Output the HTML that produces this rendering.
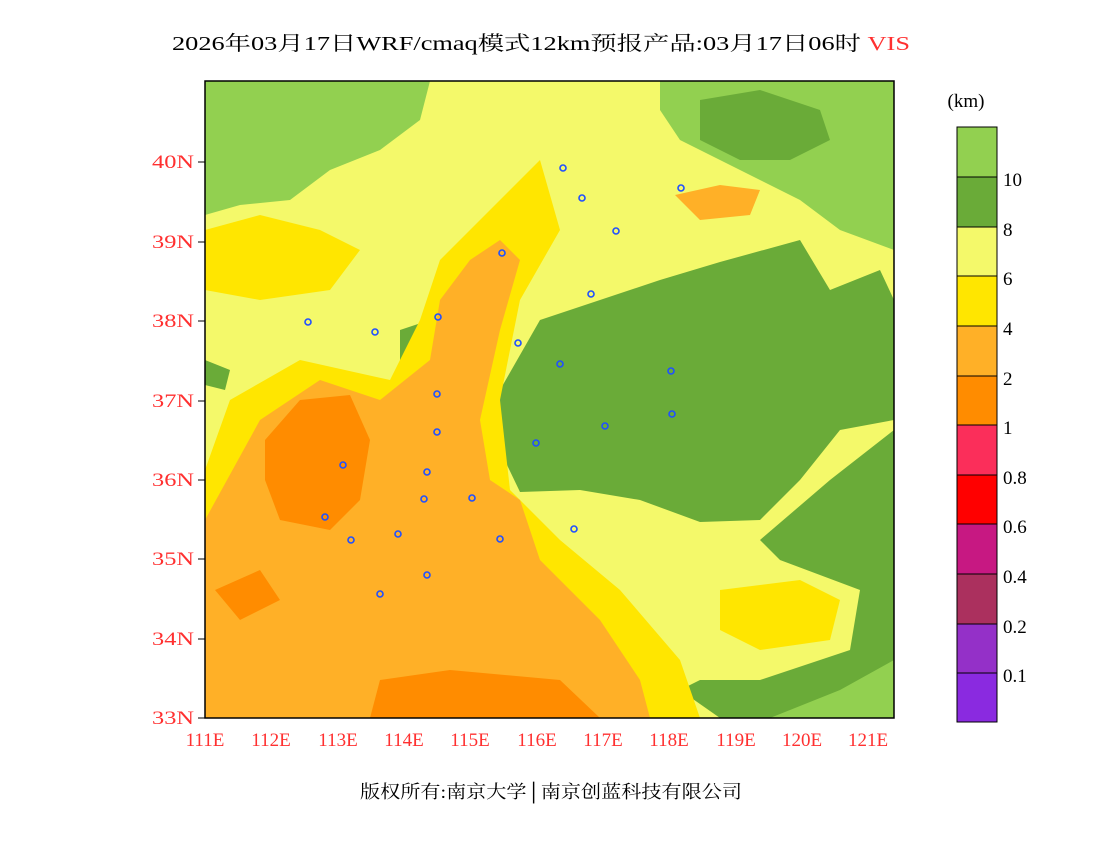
<!DOCTYPE html>
<html><head><meta charset="utf-8"><style>
html,body{margin:0;padding:0;background:#fff;}
svg{display:block;}
text{font-family:"Liberation Serif","Noto Serif CJK SC",serif;}
</style></head><body>
<svg width="1100" height="850" viewBox="0 0 1100 850" xmlns="http://www.w3.org/2000/svg">
<text x="172" y="50" font-size="20" textLength="738" lengthAdjust="spacingAndGlyphs" fill="#000">2026年03月17日WRF/cmaq模式12km预报产品:03月17日06时 <tspan fill="#ff3030">VIS</tspan></text>
<defs><clipPath id="c"><rect x="205" y="81" width="689" height="637"/></clipPath></defs>
<g clip-path="url(#c)">
<rect x="205" y="81" width="689" height="637" fill="#f4f96a"/>
<path d="M205,81 L430,81 L420,120 L380,150 L330,170 L290,200 L240,205 L205,215 Z" fill="#92d050"/>
<path d="M660,81 L894,81 L894,250 L840,230 L800,200 L760,180 L720,160 L680,140 L660,110 Z" fill="#92d050"/>
<path d="M700,100 L760,90 L820,110 L830,140 L790,160 L740,160 L700,140 Z" fill="#6aab38"/>
<path d="M500,390 L540,320 L600,300 L660,280 L720,262 L800,240 L830,290 L880,270 L894,300 L894,420 L840,430 L800,480 L760,520 L700,522 L640,500 L580,490 L520,492 L495,440 Z" fill="#6aab38"/>
<path d="M760,540 L830,480 L894,430 L894,718 L720,718 L680,690 L700,680 L760,680 L850,650 L860,590 L780,560 Z" fill="#6aab38"/>
<path d="M770,718 L840,690 L894,660 L894,718 Z" fill="#92d050"/>
<path d="M205,360 L230,370 L225,390 L205,385 Z M400,330 L430,320 L430,390 L400,385 Z" fill="#6aab38"/>
<path d="M205,470 L230,400 L300,360 L390,380 L420,320 L440,260 L480,220 L540,160 L560,230 L520,300 L500,400 L510,490 L560,540 L620,590 L680,660 L700,718 L205,718 Z" fill="#ffe600"/>
<path d="M720,590 L800,580 L840,600 L830,640 L760,650 L720,630 Z" fill="#ffe600"/>
<path d="M205,230 L260,215 L320,230 L360,250 L330,290 L260,300 L205,290 Z" fill="#ffe600"/>
<path d="M675,195 L720,185 L760,190 L750,215 L700,220 Z" fill="#ffb027"/>
<path d="M205,520 L260,420 L320,380 L380,400 L430,360 L440,300 L470,260 L500,240 L520,260 L500,330 L480,420 L490,480 L520,500 L540,560 L600,620 L640,680 L650,718 L205,718 Z" fill="#ffb027"/>
<path d="M265,440 L300,400 L350,395 L370,440 L360,500 L330,530 L280,520 L265,480 Z" fill="#ff8c00"/>
<path d="M380,680 L450,670 L560,680 L600,718 L370,718 Z" fill="#ff8c00"/>
<path d="M215,590 L260,570 L280,600 L240,620 Z" fill="#ff8c00"/>
</g>
<g fill="none" stroke="#2050ff" stroke-width="1.6">
<circle cx="563" cy="168" r="3"/><circle cx="582" cy="198" r="3"/><circle cx="681" cy="188" r="3"/><circle cx="616" cy="231" r="3"/><circle cx="502" cy="253" r="3"/><circle cx="591" cy="294" r="3"/><circle cx="308" cy="322" r="3"/><circle cx="375" cy="332" r="3"/><circle cx="438" cy="317" r="3"/><circle cx="518" cy="343" r="3"/><circle cx="560" cy="364" r="3"/><circle cx="671" cy="371" r="3"/><circle cx="437" cy="394" r="3"/><circle cx="672" cy="414" r="3"/><circle cx="605" cy="426" r="3"/><circle cx="437" cy="432" r="3"/><circle cx="536" cy="443" r="3"/><circle cx="343" cy="465" r="3"/><circle cx="427" cy="472" r="3"/><circle cx="424" cy="499" r="3"/><circle cx="472" cy="498" r="3"/><circle cx="325" cy="517" r="3"/><circle cx="574" cy="529" r="3"/><circle cx="398" cy="534" r="3"/><circle cx="351" cy="540" r="3"/><circle cx="500" cy="539" r="3"/><circle cx="427" cy="575" r="3"/><circle cx="380" cy="594" r="3"/>
</g>
<rect x="205" y="81" width="689" height="637" fill="none" stroke="#000" stroke-width="1.5"/>
<g stroke="#000" stroke-width="1">
<line x1="198" y1="162" x2="205" y2="162"/><line x1="198" y1="242" x2="205" y2="242"/><line x1="198" y1="321" x2="205" y2="321"/><line x1="198" y1="401" x2="205" y2="401"/><line x1="198" y1="480" x2="205" y2="480"/><line x1="198" y1="559" x2="205" y2="559"/><line x1="198" y1="639" x2="205" y2="639"/><line x1="198" y1="718" x2="205" y2="718"/>
</g>
<g font-size="19" fill="#ff3030" text-anchor="end">
<text x="194" y="168" textLength="42" lengthAdjust="spacingAndGlyphs">40N</text><text x="194" y="248" textLength="42" lengthAdjust="spacingAndGlyphs">39N</text><text x="194" y="327" textLength="42" lengthAdjust="spacingAndGlyphs">38N</text><text x="194" y="407" textLength="42" lengthAdjust="spacingAndGlyphs">37N</text><text x="194" y="486" textLength="42" lengthAdjust="spacingAndGlyphs">36N</text><text x="194" y="565" textLength="42" lengthAdjust="spacingAndGlyphs">35N</text><text x="194" y="645" textLength="42" lengthAdjust="spacingAndGlyphs">34N</text><text x="194" y="724" textLength="42" lengthAdjust="spacingAndGlyphs">33N</text>
</g>
<g font-size="19" fill="#ff3030" text-anchor="middle">
<text x="205" y="746">111E</text><text x="271" y="746">112E</text><text x="338" y="746">113E</text><text x="404" y="746">114E</text><text x="470" y="746">115E</text><text x="537" y="746">116E</text><text x="603" y="746">117E</text><text x="669" y="746">118E</text><text x="736" y="746">119E</text><text x="802" y="746">120E</text><text x="868" y="746">121E</text>
</g>
<text x="360" y="798" font-size="18" textLength="382" lengthAdjust="spacingAndGlyphs">版权所有:南京大学│南京创蓝科技有限公司</text>
<text x="966" y="107" font-size="19" text-anchor="middle">(km)</text>
<g stroke="#000" stroke-width="1">
<rect x="957" y="127" width="40" height="50" fill="#92d050"/>
<rect x="957" y="177" width="40" height="50" fill="#6aab38"/>
<rect x="957" y="227" width="40" height="49" fill="#f4f96a"/>
<rect x="957" y="276" width="40" height="50" fill="#ffe600"/>
<rect x="957" y="326" width="40" height="50" fill="#ffb027"/>
<rect x="957" y="376" width="40" height="49" fill="#ff8c00"/>
<rect x="957" y="425" width="40" height="50" fill="#fb2e5a"/>
<rect x="957" y="475" width="40" height="49" fill="#ff0000"/>
<rect x="957" y="524" width="40" height="50" fill="#c71882"/>
<rect x="957" y="574" width="40" height="50" fill="#ab305e"/>
<rect x="957" y="624" width="40" height="49" fill="#9430c8"/>
<rect x="957" y="673" width="40" height="49" fill="#8a2ae0"/>
</g>
<g font-size="19" fill="#000">
<text x="1003" y="186">10</text><text x="1003" y="236">8</text><text x="1003" y="285">6</text><text x="1003" y="335">4</text><text x="1003" y="385">2</text><text x="1003" y="434">1</text><text x="1003" y="484">0.8</text><text x="1003" y="533">0.6</text><text x="1003" y="583">0.4</text><text x="1003" y="633">0.2</text><text x="1003" y="682">0.1</text>
</g>
</svg>
</body></html>
